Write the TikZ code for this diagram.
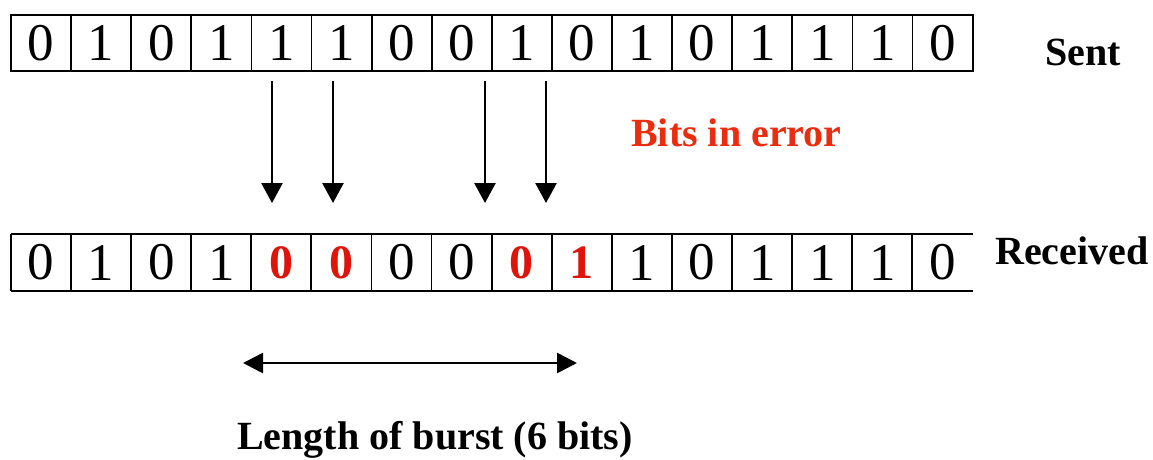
\documentclass[tikz,border=0pt]{standalone}
\usepackage{fontspec}
\setmainfont{Liberation Serif}
\usetikzlibrary{arrows.meta,calc}
\definecolor{errred}{RGB}{225,20,10}
\definecolor{lblred}{RGB}{235,45,15}
\tikzset{
  cell/.style={draw, line width=1.8pt, minimum width=60.1pt, minimum height=56pt, inner sep=0pt, font=\fontsize{53}{56}\selectfont},
  rcell/.style={minimum width=60.1pt, minimum height=57pt, inner sep=0pt, font=\fontsize{53}{56}\selectfont},
  okbit/.style={},
  badbit/.style={text=errred, font=\fontsize{48}{52}\selectfont\bfseries},
  lbl/.style={font=\fontsize{40}{44}\selectfont\bfseries, inner sep=0pt},
  err/.style={line width=2.6pt, -{Triangle[width=21pt,length=20pt]}},
  burst/.style={line width=2.6pt, {Triangle[width=20pt,length=20pt]}-{Triangle[width=20pt,length=20pt]}},
  rline/.style={line width=1.8pt}
}
\begin{document}
\begin{tikzpicture}[x=1pt,y=-1pt]
\useasboundingbox (0,0) rectangle (1153,459);
% Sent row
\foreach \b [count=\i] in {0,1,0,1,1,1,0,0,1,0,1,0,1,1,1,0} {
  \node[cell] (s\i) at ({11+60.1*(\i-0.5)},43) {\b};
}
% Received row
\foreach \b/\st [count=\i] in {0/okbit,1/okbit,0/okbit,1/okbit,0/badbit,0/badbit,0/okbit,0/okbit,0/badbit,1/badbit,1/okbit,0/okbit,1/okbit,1/okbit,1/okbit,0/okbit} {
  \node[rcell,\st] (r\i) at ({11+60.1*(\i-0.5)},262.5) {\b};
}
\draw[rline] (r1.north west) -- (r16.north east);
\draw[rline] (r1.south west) -- (r16.south east);
\foreach \i in {1,...,16} { \draw[rline] (r\i.north west) -- (r\i.south west); }
% labels
\node[lbl, anchor=base west] (sent) at (1045,65) {Sent};
\node[lbl, anchor=base west] (recv) at (995,264) {Received};
\node[lbl, anchor=base west, text=lblred] (bie) at (631,146) {Bits in error};
\node[lbl, anchor=base] (len) at (435,449) {Length of burst (6 bits)};
% error arrows
\coordinate (a1) at (272,81);  \coordinate (b1) at (272,203);
\coordinate (a2) at (333,81);  \coordinate (b2) at (333,203);
\coordinate (a3) at (485,81);  \coordinate (b3) at (485,203);
\coordinate (a4) at (546,81);  \coordinate (b4) at (546,203);
\foreach \k in {1,...,4} { \draw[err] (a\k) -- (b\k); }
% burst arrow
\coordinate (bl) at (243,363);
\coordinate (br) at (577,363);
\draw[burst] (bl) -- (br);
\end{tikzpicture}
\end{document}
